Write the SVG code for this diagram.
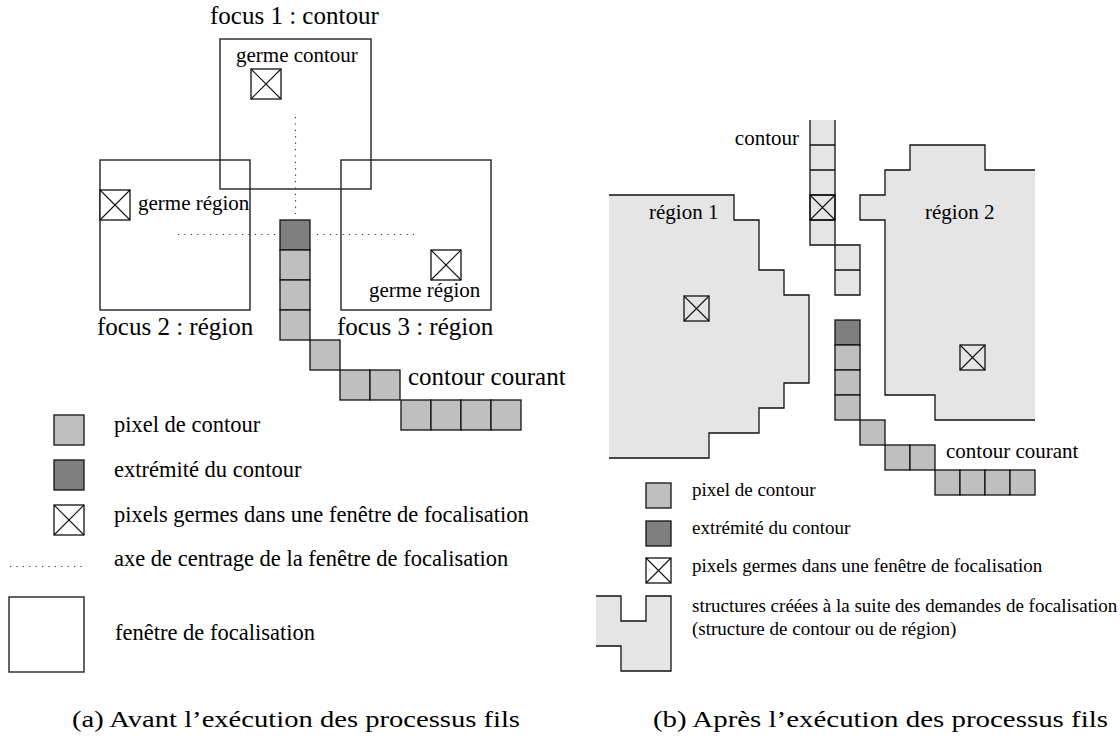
<svg xmlns="http://www.w3.org/2000/svg" width="1120" height="746" viewBox="0 0 1120 746">
<defs>
<style>
text{font-family:"Liberation Serif","Times New Roman",serif;fill:#000}
.big{font-size:25px}
.sm{font-size:21px}
.lg{font-size:22.5px}
.rl{font-size:19px}
.cap{font-size:24px}
.frame{fill:none;stroke:#222;stroke-width:1.4}
.pix{fill:#bfbfbf;stroke:#111;stroke-width:1.3}
.end{fill:#7f7f7f;stroke:#111;stroke-width:1.3}
.reg{fill:#e5e5e5;stroke:none}
.edge{fill:none;stroke:#111;stroke-width:1.3}
.dot{fill:none;stroke:#333;stroke-width:1.2;stroke-dasharray:1.2 5.2}
</style>
<g id="xbox30"><rect x="0" y="0" width="30" height="30" fill="#fff" stroke="#111" stroke-width="1.3"/><path d="M0,0L30,30M30,0L0,30" stroke="#111" stroke-width="1.1"/></g>
<g id="xbox25"><rect x="0" y="0" width="25" height="25" fill="none" stroke="#111" stroke-width="1.3"/><path d="M0,0L25,25M25,0L0,25" stroke="#111" stroke-width="1.1"/></g>
</defs>
<rect width="1120" height="746" fill="#fff"/>

<!-- ===== Left panel (a) ===== -->
<g id="focus1">
<rect class="frame" x="220" y="39" width="151" height="150"/>
<text class="big" x="210" y="24">focus 1 : contour</text>
<text class="sm" x="236" y="62">germe contour</text>
<use href="#xbox30" x="251" y="69"/>
</g>
<g id="focus2">
<rect class="frame" x="100" y="160" width="150" height="150"/>
<use href="#xbox30" x="100" y="190"/>
<text class="sm" x="138" y="210">germe région</text>
<text class="big" x="97" y="335">focus 2 : région</text>
</g>
<g id="focus3">
<rect class="frame" x="341" y="160" width="150" height="150"/>
<use href="#xbox30" x="431" y="250"/>
<text class="sm" x="369" y="297">germe région</text>
<text class="big" x="337" y="335">focus 3 : région</text>
</g>
<g id="axes-a">
<path class="dot" d="M295.5,117V214"/>
<path class="dot" d="M178,234.5H276M317,234.5H414"/>
</g>
<g id="contour-a">
<rect class="end" x="280" y="220" width="30" height="30"/>
<rect class="pix" x="280" y="250" width="30" height="30"/>
<rect class="pix" x="280" y="280" width="30" height="30"/>
<rect class="pix" x="280" y="310" width="30" height="30"/>
<rect class="pix" x="310" y="340" width="30" height="30"/>
<rect class="pix" x="340" y="370" width="30" height="30"/>
<rect class="pix" x="370" y="370" width="30" height="30"/>
<rect class="pix" x="401" y="400" width="30" height="30"/>
<rect class="pix" x="431" y="400" width="30" height="30"/>
<rect class="pix" x="461" y="400" width="30" height="30"/>
<rect class="pix" x="491" y="400" width="30" height="30"/>
<text class="big" x="408" y="385">contour courant</text>
</g>
<g id="legend-a">
<rect class="pix" x="54" y="415" width="30" height="30"/>
<text class="lg" x="114" y="432">pixel de contour</text>
<rect class="end" x="54" y="460" width="30" height="30"/>
<text class="lg" x="114" y="477">extrémité du contour</text>
<use href="#xbox30" x="54" y="505"/>
<text class="lg" x="114" y="522">pixels germes dans une fenêtre de focalisation</text>
<path class="dot" d="M10,566.5H84"/>
<text class="lg" x="114" y="566">axe de centrage de la fenêtre de focalisation</text>
<rect class="frame" x="9" y="597" width="75" height="75"/>
<text class="lg" x="115" y="640">fenêtre de focalisation</text>
</g>
<text class="cap" x="72" y="727" textLength="448" lengthAdjust="spacingAndGlyphs">(a) Avant l’exécution des processus fils</text>

<!-- ===== Right panel (b) ===== -->
<g id="region1">
<path class="reg" d="M609,195H734V220H759V270H784V295H809V383H784V408H759V433H709V458H609Z"/>
<path class="edge" d="M609,195H734V220H759V270H784V295H809V383H784V408H759V433H709V458H609"/>
<text class="sm" x="649" y="219">région 1</text>
<use href="#xbox25" x="684" y="296"/>
</g>
<g id="region2">
<path class="reg" d="M1035,170H985V145H910V170H885V195H860V220H885V395H935V420H1035Z"/>
<path class="edge" d="M1035,170H985V145H910V170H885V195H860V220H885V395H935V420H1035"/>
<text class="sm" x="925" y="219">région 2</text>
<use href="#xbox25" x="960" y="345"/>
</g>
<g id="contour-struct">
<rect class="reg" x="810" y="120" width="25" height="125"/>
<rect class="reg" x="835" y="245" width="25" height="50"/>
<path class="edge" d="M810,120V245H860V295H835V245M835,120V245M860,245V270H835M810,145H835M810,170H835M810,195H835M810,220H835"/>
<use href="#xbox25" x="810" y="195"/>
<text class="sm" x="799" y="145" text-anchor="end">contour</text>
</g>
<g id="contour-b">
<rect class="end" x="835" y="320" width="25" height="25"/>
<rect class="pix" x="835" y="345" width="25" height="25"/>
<rect class="pix" x="835" y="370" width="25" height="25"/>
<rect class="pix" x="835" y="395" width="25" height="25"/>
<rect class="pix" x="860" y="420" width="25" height="25"/>
<rect class="pix" x="885" y="445" width="25" height="25"/>
<rect class="pix" x="910" y="445" width="25" height="25"/>
<rect class="pix" x="935" y="470" width="25" height="25"/>
<rect class="pix" x="960" y="470" width="25" height="25"/>
<rect class="pix" x="985" y="470" width="25" height="25"/>
<rect class="pix" x="1010" y="470" width="25" height="25"/>
<text class="sm" x="946" y="458">contour courant</text>
</g>
<g id="legend-b">
<rect class="pix" x="646" y="483" width="25" height="25"/>
<text class="rl" x="692" y="496">pixel de contour</text>
<rect class="end" x="646" y="521" width="25" height="25"/>
<text class="rl" x="692" y="534">extrémité du contour</text>
<use href="#xbox25" x="646" y="558"/>
<text class="rl" x="692" y="572">pixels germes dans une fenêtre de focalisation</text>
<path class="reg" d="M596,596H621V621H646V596H671V671H621V646H596Z"/>
<path class="edge" d="M596,596H621V621H646V596H671V671H621V646H596"/>
<text class="rl" x="692" y="612">structures créées à la suite des demandes de focalisation</text>
<text class="rl" x="692" y="635">(structure de contour ou de région)</text>
</g>
<text class="cap" x="653" y="727" textLength="455" lengthAdjust="spacingAndGlyphs">(b) Après l’exécution des processus fils</text>
</svg>
